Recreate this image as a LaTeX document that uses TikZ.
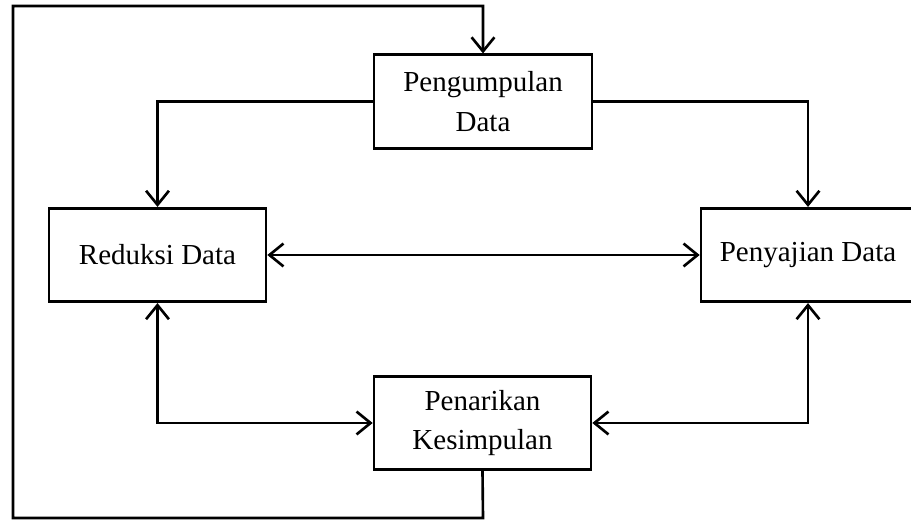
\documentclass[tikz,border=0pt]{standalone}
\usepackage{fontspec}
\setmainfont{Liberation Serif}
\usetikzlibrary{arrows.meta}

\begin{document}
\begin{tikzpicture}[
		kotak/.style={draw, line width=1.5pt, minimum height=1.87cm, align=center, inner sep=0pt,
			font=\fontsize{16.5}{22.5}\selectfont},
		garis/.style={line width=1.5pt},
		panah/.style={garis, -{Straight Barb[length=8pt,width=13pt]}},
		panahdua/.style={garis, {Straight Barb[length=8pt,width=13pt]}-{Straight Barb[length=8pt,width=13pt]}}
	]
				\useasboundingbox (0,0) rectangle (18.22,10.4);
				% kotak-kotak
				\node[kotak, minimum width=4.36cm] (kumpul) at (9.66,8.37) {Pengumpulan\\Data};
				\node[kotak, minimum width=4.34cm] (reduksi) at (3.15,5.30) {Reduksi Data};
				\node[kotak, minimum width=4.28cm] (sajian) at (16.16,5.30) {Penyajian Data};
				\node[kotak, minimum width=4.34cm] (tarik) at (9.65,1.94) {Penarikan\\Kesimpulan};
				% umpan balik
				\coordinate (b1) at (9.66,0.04);
				\coordinate (b2) at (0.26,0.04);
				\coordinate (b3) at (0.26,10.28);
				\coordinate (b4) at (9.66,10.28);
				\draw[panah] (tarik.south) -- (b1) -- (b2) -- (b3) -- (b4) -- (kumpul.north);
				% panah
				\draw[panah] (kumpul.west) -| (reduksi.north);
				\draw[panah] (kumpul.east) -| (sajian.north);
				\draw[panahdua] (reduksi.east) -- (sajian.west);
				\draw[panahdua] (reduksi.south) |- (tarik.west);
				\draw[panahdua] (sajian.south) |- (tarik.east);
			\end{tikzpicture}
\end{document}
